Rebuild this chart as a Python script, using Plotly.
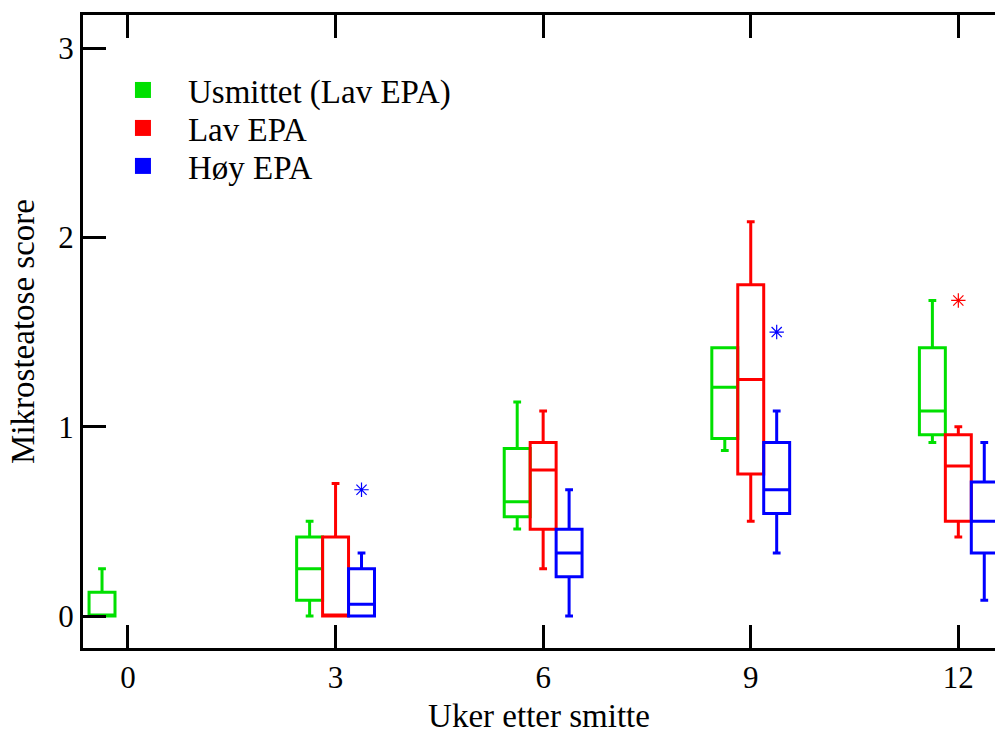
import plotly.graph_objects as go

weeks_green = [0, 3, 6, 9, 12]
weeks_other = [3, 6, 9, 12]

green_lower = [0, 0, 0.46, 0.875, 0.917]
green_q1 = [0, 0.083, 0.525, 0.938, 0.958]
green_median = [0, 0.25, 0.604, 1.208, 1.083]
green_q3 = [0.125, 0.417, 0.885, 1.417, 1.417]
green_upper = [0.25, 0.5, 1.13, 1.417, 1.667]

red_lower = [0, 0.25, 0.5, 0.417]
red_q1 = [0, 0.458, 0.75, 0.5]
red_median = [0, 0.771, 1.25, 0.792]
red_q3 = [0.417, 0.917, 1.75, 0.958]
red_upper = [0.7, 1.083, 2.083, 1.0]

blue_lower = [0, 0, 0.333, 0.083]
blue_q1 = [0, 0.208, 0.542, 0.333]
blue_median = [0.0625, 0.333, 0.667, 0.5]
blue_q3 = [0.25, 0.458, 0.917, 0.708]
blue_upper = [0.333, 0.667, 1.083, 0.917]

green_out_x = [0]
green_out_y = [None]
red_out_x = [12]
red_out_y = [1.667]
blue_out_x = [3, 9]
blue_out_y = [0.667, 1.5]

names = ["Usmittet (Lav EPA)", "Lav EPA", "Høy EPA"]
colors = ["#00e000", "#ff0000", "#0000ff"]

FONT = "Liberation Serif"

fig = go.Figure()

series = [
    (weeks_green, green_lower, green_q1, green_median, green_q3, green_upper),
    (weeks_other, red_lower, red_q1, red_median, red_q3, red_upper),
    (weeks_other, blue_lower, blue_q1, blue_median, blue_q3, blue_upper),
]
for i, (xs, lo, q1, med, q3, up) in enumerate(series):
    fig.add_trace(go.Box(
        x=xs, q1=q1, median=med, q3=q3, lowerfence=lo, upperfence=up,
        name=names[i], offsetgroup=str(i), boxpoints=False,
        line=dict(color=colors[i], width=3), fillcolor="rgba(0,0,0,0)",
        whiskerwidth=0.3, showlegend=False, hoverinfo="skip",
    ))

outs = [(green_out_x, green_out_y), (red_out_x, red_out_y), (blue_out_x, blue_out_y)]
for i, (ox, oy) in enumerate(outs):
    fig.add_trace(go.Scatter(
        x=ox, y=oy, mode="markers", offsetgroup=str(i),
        marker=dict(symbol="asterisk-open", size=12, color=colors[i],
                    line=dict(color=colors[i], width=1.2)),
        showlegend=False, hoverinfo="skip",
    ))

legend_names = ["legend", "legend2", "legend3"]
legend_y = [0.8815, 0.8215, 0.7615]
for i in range(3):
    fig.add_trace(go.Scatter(
        x=[None], y=[None], mode="markers", name=names[i],
        legend=legend_names[i],
        marker=dict(symbol="square", size=16, color=colors[i]),
    ))

leg_common = dict(x=0.0164, xanchor="left", yanchor="middle",
                  font=dict(family=FONT, size=33, color="black"),
                  bgcolor="rgba(0,0,0,0)", itemwidth=80)

fig.update_layout(
    width=995, height=734,
    margin=dict(l=83, r=0, t=15, b=86),
    paper_bgcolor="white", plot_bgcolor="white",
    font=dict(family=FONT, size=31, color="black"),
    boxmode="group", boxgap=0.625, boxgroupgap=0,
    scattermode="group", scattergap=0.625,
    showlegend=True,
    legend=dict(y=legend_y[0], **leg_common),
    legend2=dict(y=legend_y[1], **leg_common),
    legend3=dict(y=legend_y[2], **leg_common),
    xaxis=dict(range=[-0.65, 12.53], tickvals=[0, 3, 6, 9, 12],
               showline=True, linecolor="black", linewidth=3, mirror="ticks",
               ticks="inside", ticklen=23, tickwidth=2.5, tickcolor="black",
               showgrid=False, zeroline=False, ticklabelstandoff=0,
               title=dict(text="Uker etter smitte", font=dict(size=33), standoff=13)),
    yaxis=dict(range=[-0.169, 3.175], tickvals=[0, 1, 2, 3],
               showline=True, linecolor="black", linewidth=3,
               ticks="inside", ticklen=23, tickwidth=2.5, tickcolor="black",
               showgrid=False, zeroline=False,
               title=dict(text="Mikrosteatose score", font=dict(size=33), standoff=14)),
    yaxis2=dict(range=[-0.169, 3.175], tickvals=[0, 1, 2, 3], overlaying="y",
                side="right", showline=False, showticklabels=False,
                ticks="inside", ticklen=17, tickwidth=2.5, tickcolor="black",
                showgrid=False, zeroline=False),
)

fig.write_html(
    "out.html",
    config={"displayModeBar": False},
    post_script="document.body.style.margin='0';document.body.style.overflow='hidden';",
)
